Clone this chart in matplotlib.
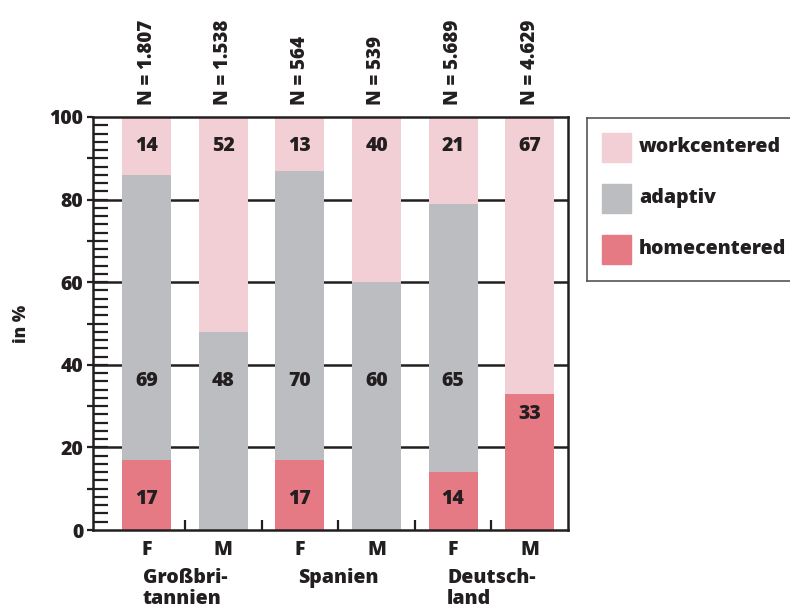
import numpy as np
import matplotlib.pyplot as plt
from matplotlib.patches import Rectangle
from matplotlib.ticker import FixedLocator

plt.rcParams['font.family'] = ['Open Sans', 'DejaVu Sans']
plt.rcParams['font.weight'] = 800
plt.rcParams['axes.labelweight'] = 800

# Daten
groups = ['Großbri-\ntannien', 'Spanien', 'Deutsch-\nland']
sex = ['F', 'M', 'F', 'M', 'F', 'M']
n_labels = ['N = 1.807', 'N = 1.538', 'N = 564', 'N = 539', 'N = 5.689', 'N = 4.629']
homecentered = [17, 0, 17, 0, 14, 33]
adaptiv = [69, 48, 70, 60, 65, 0]
workcentered = [14, 52, 13, 40, 21, 67]

series_names = ['workcentered', 'adaptiv', 'homecentered']
colors = {'workcentered': '#F2CFD4', 'adaptiv': '#BCBDC1', 'homecentered': '#E67A84'}
TXT = '#231F20'
FS = 14

fig = plt.figure(figsize=(7.9, 6.1), dpi=100)
ax = fig.add_axes([93 / 790, 1 - 530 / 610, 475 / 790, 413 / 610])

x = np.arange(len(sex))
w = 0.64
home = np.array(homecentered)
adap = np.array(adaptiv)
work = np.array(workcentered)

# Gitterlinien hinter den Balken
for g in [20, 40, 60, 80]:
    ax.axhline(g, color=TXT, lw=1.8, zorder=1)

ax.bar(x, home, w, color=colors['homecentered'], zorder=2)
ax.bar(x, adap, w, bottom=home, color=colors['adaptiv'], zorder=2)
ax.bar(x, work, w, bottom=home + adap, color=colors['workcentered'], zorder=2)

# Werte in den Balken
for i in range(len(x)):
    if work[i] > 0:
        ax.text(x[i], 100 - 7, str(work[i]), ha='center', va='center', fontsize=FS, color=TXT, zorder=3)
    if adap[i] > 0:
        ax.text(x[i], 36, str(adap[i]), ha='center', va='center', fontsize=FS, color=TXT, zorder=3)
    if home[i] > 0:
        yy = 7.5 if home[i] < 20 else home[i] - 5
        ax.text(x[i], yy, str(home[i]), ha='center', va='center', fontsize=FS, color=TXT, zorder=3)
    ax.text(x[i], 1.03, n_labels[i], rotation=90, ha='center', va='bottom', fontsize=13.5,
            color=TXT, transform=ax.get_xaxis_transform())

ax.set_xlim(-0.7, 5.5)
ax.set_ylim(0, 100)

for s in ax.spines.values():
    s.set_linewidth(1.8)
    s.set_color(TXT)

# y-Achse: Leiter nach innen, Hauptstriche nach außen
ax.yaxis.remove_overlapping_locs = False
ax.yaxis.set_major_locator(FixedLocator(np.arange(0, 101, 10)))
ax.set_yticklabels([str(v) if v % 20 == 0 else '' for v in range(0, 101, 10)])
ax.yaxis.set_minor_locator(FixedLocator(np.arange(2, 99, 2)))
ax.tick_params(axis='y', which='major', direction='out', length=4, width=1.6, color=TXT,
               labelsize=FS, labelcolor=TXT, pad=3)
ax.tick_params(axis='y', which='minor', direction='in', length=11, width=1.6, color=TXT)

# x-Achse: Striche zwischen den Balken, Beschriftung an den Balken
ax.xaxis.set_major_locator(FixedLocator(x[:-1] + 0.5))
ax.set_xticklabels([''] * (len(x) - 1))
ax.xaxis.set_minor_locator(FixedLocator(x))
ax.set_xticklabels(sex, minor=True)
ax.tick_params(axis='x', which='major', direction='in', length=7, width=1.6, color=TXT)
ax.tick_params(axis='x', which='minor', length=0, labelsize=FS, labelcolor=TXT, pad=7)

for j, g in enumerate(groups):
    ax.text(2 * j + 0.5, -0.092, g, ha='center', va='top', multialignment='left',
            fontsize=FS, color=TXT, linespacing=1.1, transform=ax.get_xaxis_transform())

ax.set_ylabel('in %', fontsize=12.5, color=TXT, labelpad=14)

# Legende
lg = fig.add_axes([587 / 790, 1 - 281 / 610, 205 / 790, 163 / 610])
lg.set_xlim(0, 205)
lg.set_ylim(163, 0)
lg.set_xticks([])
lg.set_yticks([])
for s in lg.spines.values():
    s.set_linewidth(1.2)
    s.set_color('#555555')
for k, name in enumerate(series_names):
    yc = 29 + k * 51
    lg.add_patch(Rectangle((15, yc - 14.5), 29, 29, color=colors[name]))
    lg.text(52, yc, name, va='center', ha='left', fontsize=FS, color=TXT)

fig.savefig('out.png', dpi=100)
